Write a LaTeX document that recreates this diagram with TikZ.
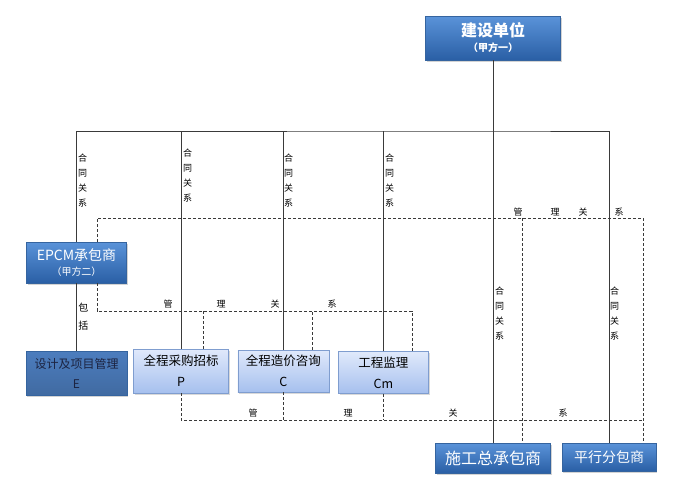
\documentclass[tikz,border=0pt]{standalone}
\usepackage{fontspec}
\setmainfont{Noto Sans CJK SC}
\usetikzlibrary{positioning,shadows}

\definecolor{darktop}{HTML}{5A93D9}
\definecolor{darkbot}{HTML}{2A5FA5}
\definecolor{darkedge}{HTML}{35649F}
\definecolor{efill}{HTML}{4C7DBE}
\definecolor{etext}{HTML}{1C2340}
\definecolor{lighttop}{HTML}{E0E9FB}
\definecolor{lightbot}{HTML}{A6C0EE}
\definecolor{lightedge}{HTML}{7F9DCF}
\definecolor{linegray}{HTML}{3A3A3A}

\begin{document}
\begin{tikzpicture}[x=1pt, y=-1pt,
  darkbox/.style={rectangle, draw=darkedge, top color=darktop, bottom color=darkbot, text=white, align=center, inner sep=0pt,
    drop shadow={shadow xshift=1.2pt, shadow yshift=-1.5pt, opacity=0.35}},
  lightbox/.style={rectangle, draw=lightedge, top color=lighttop, bottom color=lightbot, text=black, align=center, inner sep=0pt,
    minimum height=42pt, font=\fontsize{12.5}{21}\selectfont, drop shadow={shadow xshift=1.2pt, shadow yshift=-1.5pt, opacity=0.3}},
  line/.style={draw=linegray, line width=0.8pt},
  mgmt/.style={draw=linegray, line width=0.7pt, dash pattern=on 3pt off 2pt},
  vlabel/.style={font=\fontsize{9}{15}\selectfont, align=center, inner sep=0pt, anchor=north west},
  mlabel/.style={font=\fontsize{9}{10}\selectfont, inner sep=0pt}]
\useasboundingbox (0,0) rectangle (686,485);

% boxes
\node[darkbox, minimum width=135pt, minimum height=44pt] (owner) at (493,38) {{\fontsize{16}{19}\selectfont\bfseries 建设单位}\\[3pt]{\fontsize{10}{12}\selectfont\bfseries （甲方一）}};
\node[darkbox, minimum width=100pt, minimum height=41pt] (epcm) at (76.5,262.5) {{\fontsize{14}{17}\selectfont EPCM承包商}\\[3pt]{\fontsize{10}{12}\selectfont （甲方二）}};
\node[darkbox, fill=efill, top color=efill, bottom color=efill!85!black, text=etext, minimum width=101pt, minimum height=44pt, font=\fontsize{12}{20}\selectfont] (e) at (76.5,373) {设计及项目管理\\E};
\node[lightbox, minimum width=95pt, minimum height=44pt] (p) at (181,371) {全程采购招标\\P};
\node[lightbox, minimum width=91pt, right=9pt of p] (c) {全程造价咨询\\C};
\node[lightbox, minimum width=90pt, right=9pt of c, yshift=-1.5pt] (cm) {工程监理\\Cm};
\node[darkbox, minimum width=115pt, minimum height=30pt, font=\fontsize{16}{19}\selectfont] (gc) at (493,458) {施工总承包商};
\node[darkbox, minimum width=94pt, minimum height=28pt, font=\fontsize{14}{17}\selectfont] (sub) at (609,457) {平行分包商};

% contract lines
\coordinate (bus) at (493,131);
\draw[line] (owner.south) -- (gc.north);
\draw[line] (epcm.north) |- (bus) -| (sub.north);
\draw[line] (p.north) -- (p.north |- bus);
\draw[line] (c.north) -- (c.north |- bus);
\draw[line] (cm.north) -- (cm.north |- bus);
\draw[line] (epcm.south) -- node[font=\fontsize{10}{18}\selectfont, align=center, inner sep=0pt, anchor=west, xshift=1.5pt] (incl) {包\\括} (e.north);

\node[vlabel] (ce) at (78,154) {合\\同\\关\\系};
\node[vlabel] (cp) at (183,149) {合\\同\\关\\系};
\node[vlabel] (cc) at (284,154) {合\\同\\关\\系};
\node[vlabel] (ccm) at (385,154) {合\\同\\关\\系};
\node[vlabel] (cgc) at (495,287) {合\\同\\关\\系};
\node[vlabel] (csub) at (610,287) {合\\同\\关\\系};

% management lines
\coordinate (mtop) at (522,218);
\coordinate (mmid) at (412,311);
\coordinate (mbot) at (643,420);
\draw[mgmt] ([xshift=20.5pt]epcm.north) |- (mtop) -| ([xshift=-13pt]sub.north east);
\draw[mgmt] (mtop) -- (mtop |- gc.north);
\draw[mgmt] ([xshift=20.5pt]epcm.south) |- (mmid) -- (mmid |- cm.north);
\draw[mgmt] ([xshift=22pt]p.north) -- ([xshift=22pt]p.north |- mmid);
\draw[mgmt] ([xshift=29pt]c.north) -- ([xshift=29pt]c.north |- mmid);
\draw[mgmt] (p.south) |- (mbot);
\draw[mgmt] (c.south) -- (c.south |- mbot);
\draw[mgmt] (cm.south) -- (cm.south |- mbot);

\node[mlabel] (mt1) at (518,212) {管};
\node[mlabel] (mt2) at (555,212) {理};
\node[mlabel] (mt3) at (583,212) {关};
\node[mlabel] (mt4) at (619,212) {系};
\node[mlabel] (mm1) at (168,304) {管};
\node[mlabel] (mm2) at (221,304) {理};
\node[mlabel] (mm3) at (275,304) {关};
\node[mlabel] (mm4) at (332,304) {系};
\node[mlabel] (mb1) at (253,413) {管};
\node[mlabel] (mb2) at (348,413) {理};
\node[mlabel] (mb3) at (453,413) {关};
\node[mlabel] (mb4) at (563,413) {系};
\end{tikzpicture}
\end{document}
